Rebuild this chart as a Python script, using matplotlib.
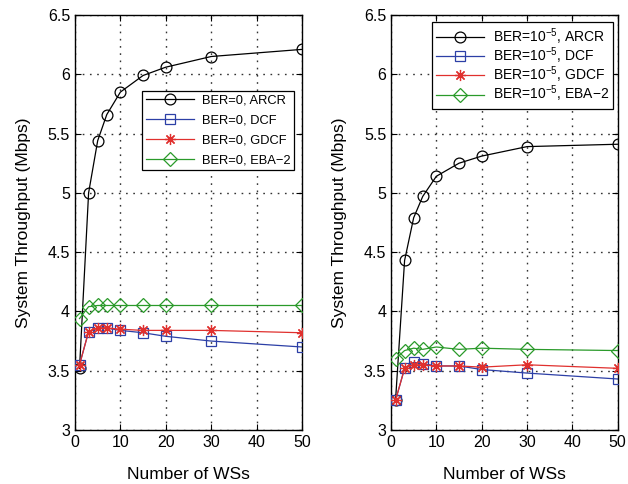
import matplotlib.pyplot as plt

plt.rcParams['font.family'] = ['Liberation Sans', 'DejaVu Sans']

ws = [1, 3, 5, 7, 10, 15, 20, 30, 50]

# BER = 0
arcr_0 = [3.52, 5.00, 5.44, 5.66, 5.85, 5.99, 6.06, 6.15, 6.21]
dcf_0 = [3.55, 3.83, 3.86, 3.86, 3.84, 3.82, 3.79, 3.75, 3.70]
gdcf_0 = [3.55, 3.83, 3.86, 3.86, 3.85, 3.84, 3.84, 3.84, 3.82]
eba_0 = [3.94, 4.04, 4.05, 4.05, 4.05, 4.05, 4.05, 4.05, 4.05]

# BER = 1e-5
arcr_5 = [3.25, 4.43, 4.79, 4.97, 5.14, 5.25, 5.31, 5.39, 5.41]
dcf_5 = [3.25, 3.52, 3.57, 3.56, 3.54, 3.54, 3.51, 3.48, 3.43]
gdcf_5 = [3.25, 3.52, 3.55, 3.55, 3.54, 3.54, 3.53, 3.55, 3.52]
eba_5 = [3.60, 3.67, 3.69, 3.68, 3.70, 3.68, 3.69, 3.68, 3.67]

names = ['ARCR', 'DCF', 'GDCF', 'EBA\u22122']
colors = ['black', '#2c3fa6', '#e0302e', '#2a9a2a']
markers = ['o', 's', (8, 2, 0), 'D']   # (8, 2, 0) -> asterisk
msizes = [7.8, 7, 8, 6.8]

fig = plt.figure(figsize=(6.28, 4.84), dpi=100)
ax1 = fig.add_axes([0.1194, 0.1116, 0.3615, 0.8574])
ax2 = fig.add_axes([0.6226, 0.1116, 0.361, 0.8574])


def draw(ax, series, prefix, legend_anchor, fsize, spacing):
    for ys, name, c, m, ms in zip(series, names, colors, markers, msizes):
        ax.plot(ws, ys, color=c, marker=m, markersize=ms, markerfacecolor='none',
                markeredgecolor=c, markeredgewidth=0.9, linewidth=0.9,
                label=prefix + ', ' + name, zorder=3)
    ax.set_xlim(0, 50)
    ax.set_ylim(3, 6.5)
    ax.set_xticks([0, 10, 20, 30, 40, 50])
    ax.set_yticks([3, 3.5, 4, 4.5, 5, 5.5, 6, 6.5])
    ax.set_yticklabels(['3', '3.5', '4', '4.5', '5', '5.5', '6', '6.5'])
    ax.grid(True, color='black', linestyle=(0, (1.2, 4)), linewidth=1.0, alpha=0.8)
    ax.tick_params(direction='in', labelsize=11.5, length=4, top=True, right=True)
    ax.set_xlabel('Number of WSs', fontsize=12.5, labelpad=12)
    ax.set_ylabel('System Throughput (Mbps)', fontsize=12.5, labelpad=12)
    for s in ax.spines.values():
        s.set_linewidth(1.0)
    leg = ax.legend(loc='upper left', bbox_to_anchor=legend_anchor, fontsize=fsize,
                    numpoints=1, handlelength=48 / (fsize * 1.389), fancybox=False,
                    edgecolor='black', framealpha=1, borderpad=0.3,
                    labelspacing=spacing, handletextpad=0.6, borderaxespad=0)
    leg.get_frame().set_linewidth(0.9)


draw(ax1, [arcr_0, dcf_0, gdcf_0, eba_0], 'BER=0', (0.295, 0.817), 9.3, 0.6)
draw(ax2, [arcr_5, dcf_5, gdcf_5, eba_5], 'BER=10$^{\\mathregular{-5}}$',
     (0.181, 0.983), 10, -0.1)

fig.savefig('out.png', dpi=100)
